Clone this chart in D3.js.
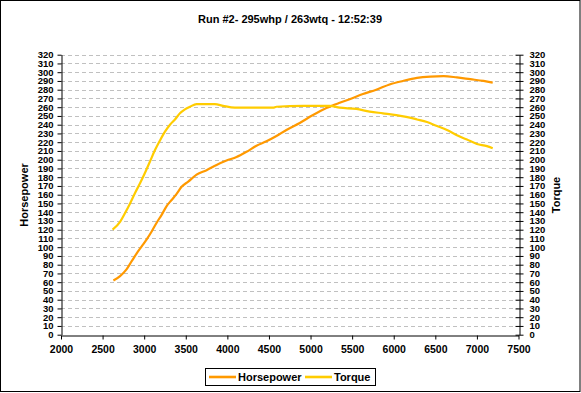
<!DOCTYPE html>
<html>
<head>
<meta charset="utf-8">
<script src="https://cdn.jsdelivr.net/npm/d3@7"></script>
<style>
  body { margin: 0; background: #fff; }
  text { font-family: "Liberation Sans", Arial, sans-serif; font-weight: bold; }
</style>
</head>
<body>
<div id="container"></div>
<script>
// the data
const rpmHp = [2630, 2710, 2790, 2850, 2910, 2970, 3030, 3090, 3150, 3210, 3270, 3330, 3390, 3450, 3530, 3630, 3750, 3870, 3990, 4110, 4230, 4350, 4470, 4590, 4710, 4870, 5030, 5190, 5350, 5470, 5630, 5790, 5950, 6110, 6280, 6440, 6600, 6760, 6920, 7080, 7190];
const horsepower = [62, 67, 75, 84, 93, 101, 109, 118, 128, 137, 147, 154, 161, 169, 175, 183, 188, 194, 199, 203, 209, 216, 221, 227, 234, 242, 251, 259, 265, 269, 275, 280, 286, 290, 293.5, 295, 295.5, 294, 292, 290, 288];
const rpmTq = [2620, 2710, 2770, 2830, 2890, 2950, 3010, 3070, 3130, 3190, 3250, 3310, 3370, 3430, 3490, 3550, 3630, 3850, 3950, 4090, 4550, 4590, 4910, 5230, 5350, 5550, 5710, 5870, 6030, 6150, 6280, 6400, 6520, 6640, 6760, 6880, 7000, 7120, 7190];
const torque = [120, 129, 139, 150, 162, 173, 185, 198, 211, 222, 232, 240, 246, 253, 257.5, 260.5, 263.5, 263.5, 261.5, 259.5, 259.5, 260.5, 261.5, 261.5, 259.5, 258, 255, 253, 251, 249, 246, 243, 238.5, 234, 228, 223, 218, 215.5, 213];
const xTicks = [2000, 2500, 3000, 3500, 4000, 4500, 5000, 5500, 6000, 6500, 7000, 7500];
const yTicks = d3.range(0, 321, 10);
const seriesNames = ["Horsepower", "Torque"];
const seriesColors = ["#ff9900", "#ffcc00"];
const chartTitle = "Run #2- 295whp / 263wtq - 12:52:39";

// everything about drawing goes in here
const DYNO = {};
DYNO.W = 581;
DYNO.H = 393;
DYNO.plot = { left: 61, right: 518.5, top: 54.7, bottom: 334.7 };

DYNO.svg = d3.select("#container").append("svg")
  .attr("width", DYNO.W)
  .attr("height", DYNO.H);

// white page with the thin black frame round it
DYNO.svg.append("rect")
  .attr("x", 0.5).attr("y", 0.5)
  .attr("width", DYNO.W - 1.5).attr("height", DYNO.H - 2)
  .attr("fill", "#fff").attr("stroke", "#000");

DYNO.x = d3.scaleLinear().domain([2000, 7500]).range([DYNO.plot.left, DYNO.plot.right]);
DYNO.y = d3.scaleLinear().domain([0, 320]).range([DYNO.plot.bottom, DYNO.plot.top]);

// dashed grey grid lines, one every 10
DYNO.svg.append("g")
  .selectAll("line")
  .data(yTicks.filter(d => d > 0))
  .join("line")
  .attr("x1", DYNO.plot.left).attr("x2", DYNO.plot.right)
  .attr("y1", d => Math.round(DYNO.y(d)) + 0.5)
  .attr("y2", d => Math.round(DYNO.y(d)) + 0.5)
  .attr("stroke", "#c0c0c0")
  .attr("stroke-dasharray", "4,3");

// axes, no thousands comma on the rpm
DYNO.xAxis = DYNO.svg.append("g")
  .attr("transform", "translate(0," + (Math.round(DYNO.plot.bottom) + 0.5) + ")")
  .call(d3.axisBottom(DYNO.x).tickValues(xTicks).tickFormat(d3.format("d")).tickSize(4).tickSizeOuter(0).tickPadding(6));
DYNO.leftAxis = DYNO.svg.append("g")
  .attr("transform", "translate(" + (DYNO.plot.left + 0.5) + ",0)")
  .call(d3.axisLeft(DYNO.y).tickValues(yTicks).tickSize(4).tickSizeOuter(0).tickPadding(4));
DYNO.rightAxis = DYNO.svg.append("g")
  .attr("transform", "translate(" + (Math.round(DYNO.plot.right) + 0.5) + ",0)")
  .call(d3.axisRight(DYNO.y).tickValues(yTicks).tickSize(4).tickSizeOuter(0).tickPadding(6));
// right axis ticks cross the line on both sides
DYNO.rightAxis.selectAll(".tick line").attr("x1", -4);

[DYNO.xAxis, DYNO.leftAxis, DYNO.rightAxis].forEach(function (a) {
  a.selectAll("text").attr("font-size", 9.5).attr("font-family", null).attr("fill", "#000");
  a.selectAll("line, path").attr("stroke", "#000");
});
DYNO.xAxis.selectAll("text").attr("font-size", 10.5);

// the two curves
DYNO.series = [
  { name: seriesNames[0], xs: rpmHp, ys: horsepower, color: seriesColors[0] },
  { name: seriesNames[1], xs: rpmTq, ys: torque, color: seriesColors[1] }
];
DYNO.line = d3.line()
  .x(d => DYNO.x(d[0]))
  .y(d => DYNO.y(d[1]))
  .curve(d3.curveMonotoneX);
DYNO.series.forEach(function (s) {
  DYNO.svg.append("path")
    .datum(s.xs.map((r, i) => [r, s.ys[i]]))
    .attr("d", DYNO.line)
    .attr("fill", "none")
    .attr("stroke", s.color)
    .attr("stroke-width", 2.2);
});

// title and axis names
DYNO.svg.append("text")
  .attr("x", 290).attr("y", 23)
  .attr("text-anchor", "middle")
  .attr("font-size", 11)
  .text(chartTitle);
DYNO.svg.append("text")
  .attr("transform", "translate(28,195) rotate(-90)")
  .attr("text-anchor", "middle")
  .attr("font-size", 11)
  .text(seriesNames[0]);
DYNO.svg.append("text")
  .attr("transform", "translate(560,195) rotate(-90)")
  .attr("text-anchor", "middle")
  .attr("font-size", 11)
  .text(seriesNames[1]);

// legend box at the bottom
DYNO.legend = DYNO.svg.append("g");
DYNO.legend.append("rect")
  .attr("x", 205.5).attr("y", 368.5)
  .attr("width", 170).attr("height", 17)
  .attr("fill", "#fff").attr("stroke", "#000");
DYNO.legendPos = [209, 305];
DYNO.series.forEach(function (s, i) {
  const lx = DYNO.legendPos[i];
  DYNO.legend.append("line")
    .attr("x1", lx).attr("x2", lx + 27)
    .attr("y1", 377).attr("y2", 377)
    .attr("stroke", s.color).attr("stroke-width", 2.6);
  DYNO.legend.append("text")
    .attr("x", lx + 29).attr("y", 381)
    .attr("font-size", 11)
    .text(s.name);
});
</script>
</body>
</html>
